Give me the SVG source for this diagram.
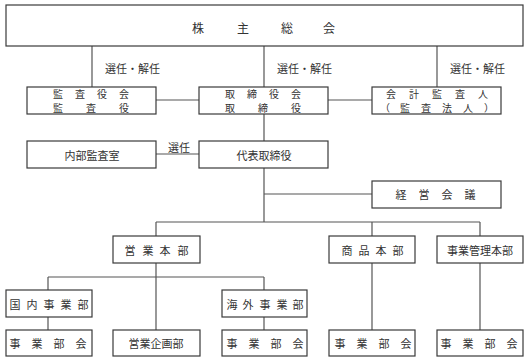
<svg xmlns="http://www.w3.org/2000/svg" width="528" height="361" viewBox="0 0 528 361">
<style>
.box{fill:#fff;stroke:#3a3a3a;stroke-width:1.2}
.ln{fill:none;stroke:#555;stroke-width:1.2}
text{font-family:"Noto Sans CJK JP","Noto Sans CJK SC",sans-serif;font-size:11px;fill:#333;text-anchor:middle;dominant-baseline:central}
.big{font-size:12px}
.two{font-size:10px}
</style>
<rect width="528" height="361" fill="#fff"/>
<g id="connectors">
<path class="ln" d="M92 46V87M264 46V141M437 46V87"/>
<path class="ln" d="M156 100H199M328 100H372"/>
<path class="ln" d="M156 154H199"/>
<path class="ln" d="M264 168V222M264 194H372"/>
<path class="ln" d="M156 222H480M156 222V236M372 222V236M480 222V236"/>
<path class="ln" d="M156 263V330M48 277H264M48 277V290M264 277V290"/>
<path class="ln" d="M48 317V330M264 317V330M372 263V330M480 263V330"/>
<text x="132.5" y="68">選任・解任</text>
<text x="304.5" y="68">選任・解任</text>
<text x="477.5" y="68">選任・解任</text>
<text x="179" y="147">選任</text>
</g>
<g id="shareholders">
<rect class="box" x="6" y="5" width="517" height="41"/>
<text class="big" x="198 243 287 329" y="27">株主総会</text>
</g>
<g id="kansayakukai">
<rect class="box" x="27" y="87" width="129" height="27"/>
<text class="two" x="58 80 102 124" y="93.5">監査役会</text>
<text class="two" x="58 91 124" y="107.5">監査役</text>
</g>
<g id="torishimariyakukai">
<rect class="box" x="199" y="87" width="129" height="27"/>
<text class="two" x="230 252 274 296" y="93.5">取締役会</text>
<text class="two" x="230 263 296" y="107.5">取締役</text>
</g>
<g id="kaikei">
<rect class="box" x="372" y="87" width="129" height="27"/>
<text class="two" x="391 414 437 460 483" y="93.5">会計監査人</text>
<text class="two" x="385 405 426 447 468 489" y="107.5">（監査法人）</text>
</g>
<g id="naibu">
<rect class="box" x="27" y="141" width="129" height="27"/>
<text x="92" y="155">内部監査室</text>
</g>
<g id="daihyo">
<rect class="box" x="199" y="141" width="129" height="27"/>
<text x="264" y="155">代表取締役</text>
</g>
<g id="keiei">
<rect class="box" x="372" y="181" width="129" height="27"/>
<text x="401 424 447 470" y="194">経営会議</text>
</g>
<g id="eigyohonbu">
<rect class="box" x="113" y="236" width="87" height="27"/>
<text x="130 148 165 183" y="250">営業本部</text>
</g>
<g id="shohinhonbu">
<rect class="box" x="329" y="236" width="86" height="27"/>
<text x="347 364 381 398" y="250">商品本部</text>
</g>
<g id="jigyokanri">
<rect class="box" x="437" y="236" width="86" height="27"/>
<text x="480" y="250">事業管理本部</text>
</g>
<g id="kokunai">
<rect class="box" x="6" y="290" width="86" height="27"/>
<text x="15 32 49 66 83" y="304">国内事業部</text>
</g>
<g id="kaigai">
<rect class="box" x="222" y="290" width="85" height="27"/>
<text x="232 248 265 282 298" y="304">海外事業部</text>
</g>
<g id="bukai1">
<rect class="box" x="6" y="330" width="86" height="26"/>
<text x="15 37 59 81" y="343">事業部会</text>
</g>
<g id="kikaku">
<rect class="box" x="113" y="330" width="87" height="26"/>
<text x="156" y="343">営業企画部</text>
</g>
<g id="bukai2">
<rect class="box" x="222" y="330" width="85" height="26"/>
<text x="232 254 276 298" y="343">事業部会</text>
</g>
<g id="bukai3">
<rect class="box" x="329" y="330" width="86" height="26"/>
<text x="340 362 384 406" y="343">事業部会</text>
</g>
<g id="bukai4">
<rect class="box" x="437" y="330" width="86" height="26"/>
<text x="446 468 490 512" y="343">事業部会</text>
</g>
</svg>
